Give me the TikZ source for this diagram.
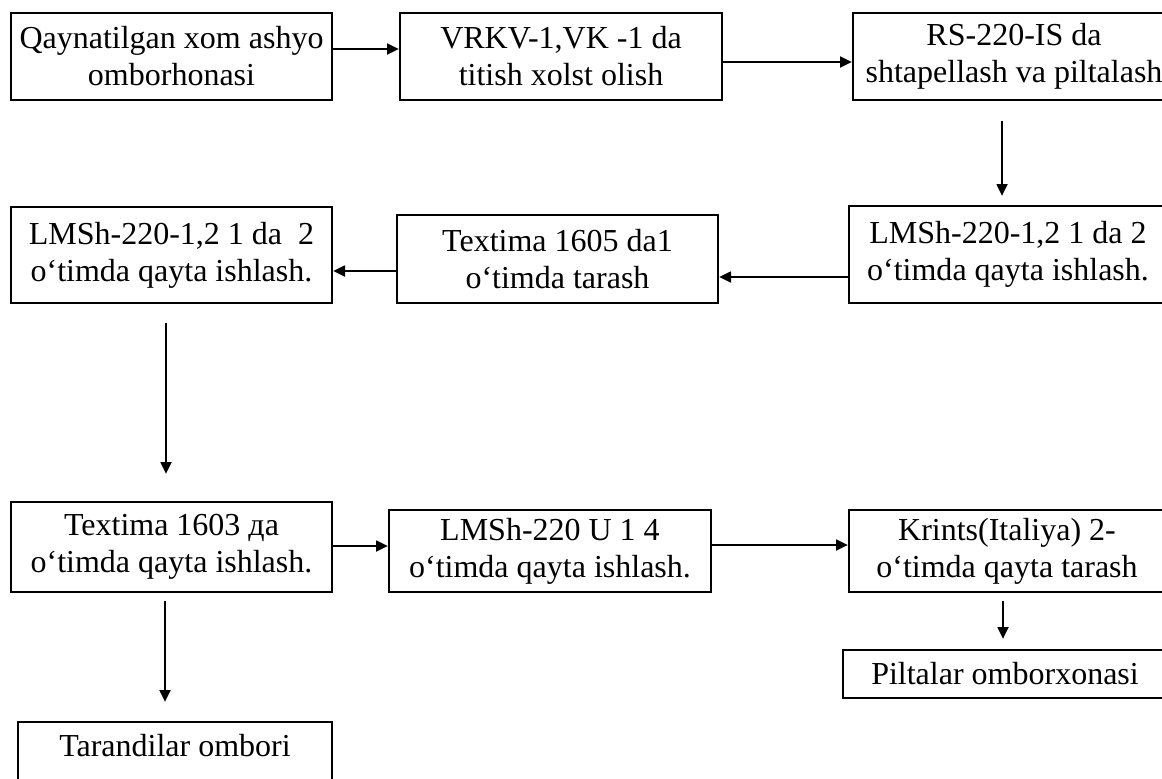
\documentclass[tikz,border=0pt]{standalone}
\usepackage{fontspec}
\setmainfont{Liberation Serif}
\usetikzlibrary{arrows.meta,calc}

\begin{document}
\begin{tikzpicture}[x=0.75pt,y=-0.75pt,
      box/.style={draw=black,line width=1.5pt,align=center,inner sep=0pt,
                  minimum width=240.75pt,minimum height=65.25pt,
                  font=\fontsize{24}{27.75}\selectfont},
      arr/.style={-{Triangle[length=9pt,width=8pt]},black,line width=2pt}]
    \useasboundingbox (0,0) rectangle (1162,778);
    % first row
    \node[box] (raw) at (171.5,56.5) {Qaynatilgan xom ashyo\\omborhonasi};
    \node[box,minimum width=241.5pt] (vrkv) at (561,56.5) {VRKV-1,VK -1 da\\titish xolst olish};
    \node[box,minimum width=241.5pt] (rs) at (1014,56.5) {RS-220-IS da\\shtapellash va piltalash};
    % second row
    \node[box,minimum width=238.5pt,minimum height=72.75pt] (lmshR) at (1008,254.5) {LMSh-220-1,2 1 da 2\\o‘timda qayta ishlash.};
    \node[box,minimum height=66pt] (tx05) at (557.5,259) {Textima 1605 da1\\o‘timda tarash};
    \node[box,minimum height=72pt] (lmshL) at (171.5,255) {LMSh-220-1,2 1 da~ 2\\o‘timda qayta ishlash.};
    % third row
    \node[box,minimum height=67.5pt] (tx03) at (171.5,547) {Textima 1603 да\\o‘timda qayta ishlash.};
    \node[box,minimum width=241.5pt,minimum height=61.5pt] (lmshU) at (550,551) {LMSh-220 U 1 4\\o‘timda qayta ishlash.};
    \node[box,minimum width=237pt,minimum height=61.5pt] (krints) at (1007,551) {Krints(Italiya) 2-\\o‘timda qayta tarash};
    % stores
    \node[box,minimum width=243pt,minimum height=36pt] (pilt) at (1005,674) {Piltalar omborxonasi};
    \node[box,minimum width=235.5pt,minimum height=0pt,text height=26pt,text depth=35pt,anchor=north] (taran) at (175,721) {Tarandilar ombori};
    \draw[arr] ($(raw.east)+(0,-7.5)$) -- ($(vrkv.west)+(0,-7.5)$);
    \draw[arr] ($(vrkv.east)+(0,5.5)$) -- ($(rs.west)+(0,5.5)$);
    \draw[arr] ($(rs.south)+(-12,20)$) -- ($(lmshR.north)+(-6,-9)$);
    \draw[arr] ($(lmshR.west)+(0,22.5)$) -- ($(tx05.east)+(0,18)$);
    \draw[arr] ($(tx05.west)+(0,12)$) -- ($(lmshL.east)+(0,16)$);
    \draw[arr] ($(lmshL.south)+(-5.5,19)$) -- ($(tx03.north)+(-5.5,-27)$);
    \draw[arr] ($(tx03.east)+(0,-1)$) -- ($(lmshU.west)+(0,-5)$);
    \draw[arr] ($(lmshU.east)+(0,-6)$) -- ($(krints.west)+(0,-6)$);
    \draw[arr] ($(krints.south)+(-4,8)$) -- ($(pilt.north)+(-2,-10)$);
    \draw[arr] ($(tx03.south)+(-6.5,8)$) -- ($(taran.north)+(-10,-19)$);
  \end{tikzpicture}
\end{document}
